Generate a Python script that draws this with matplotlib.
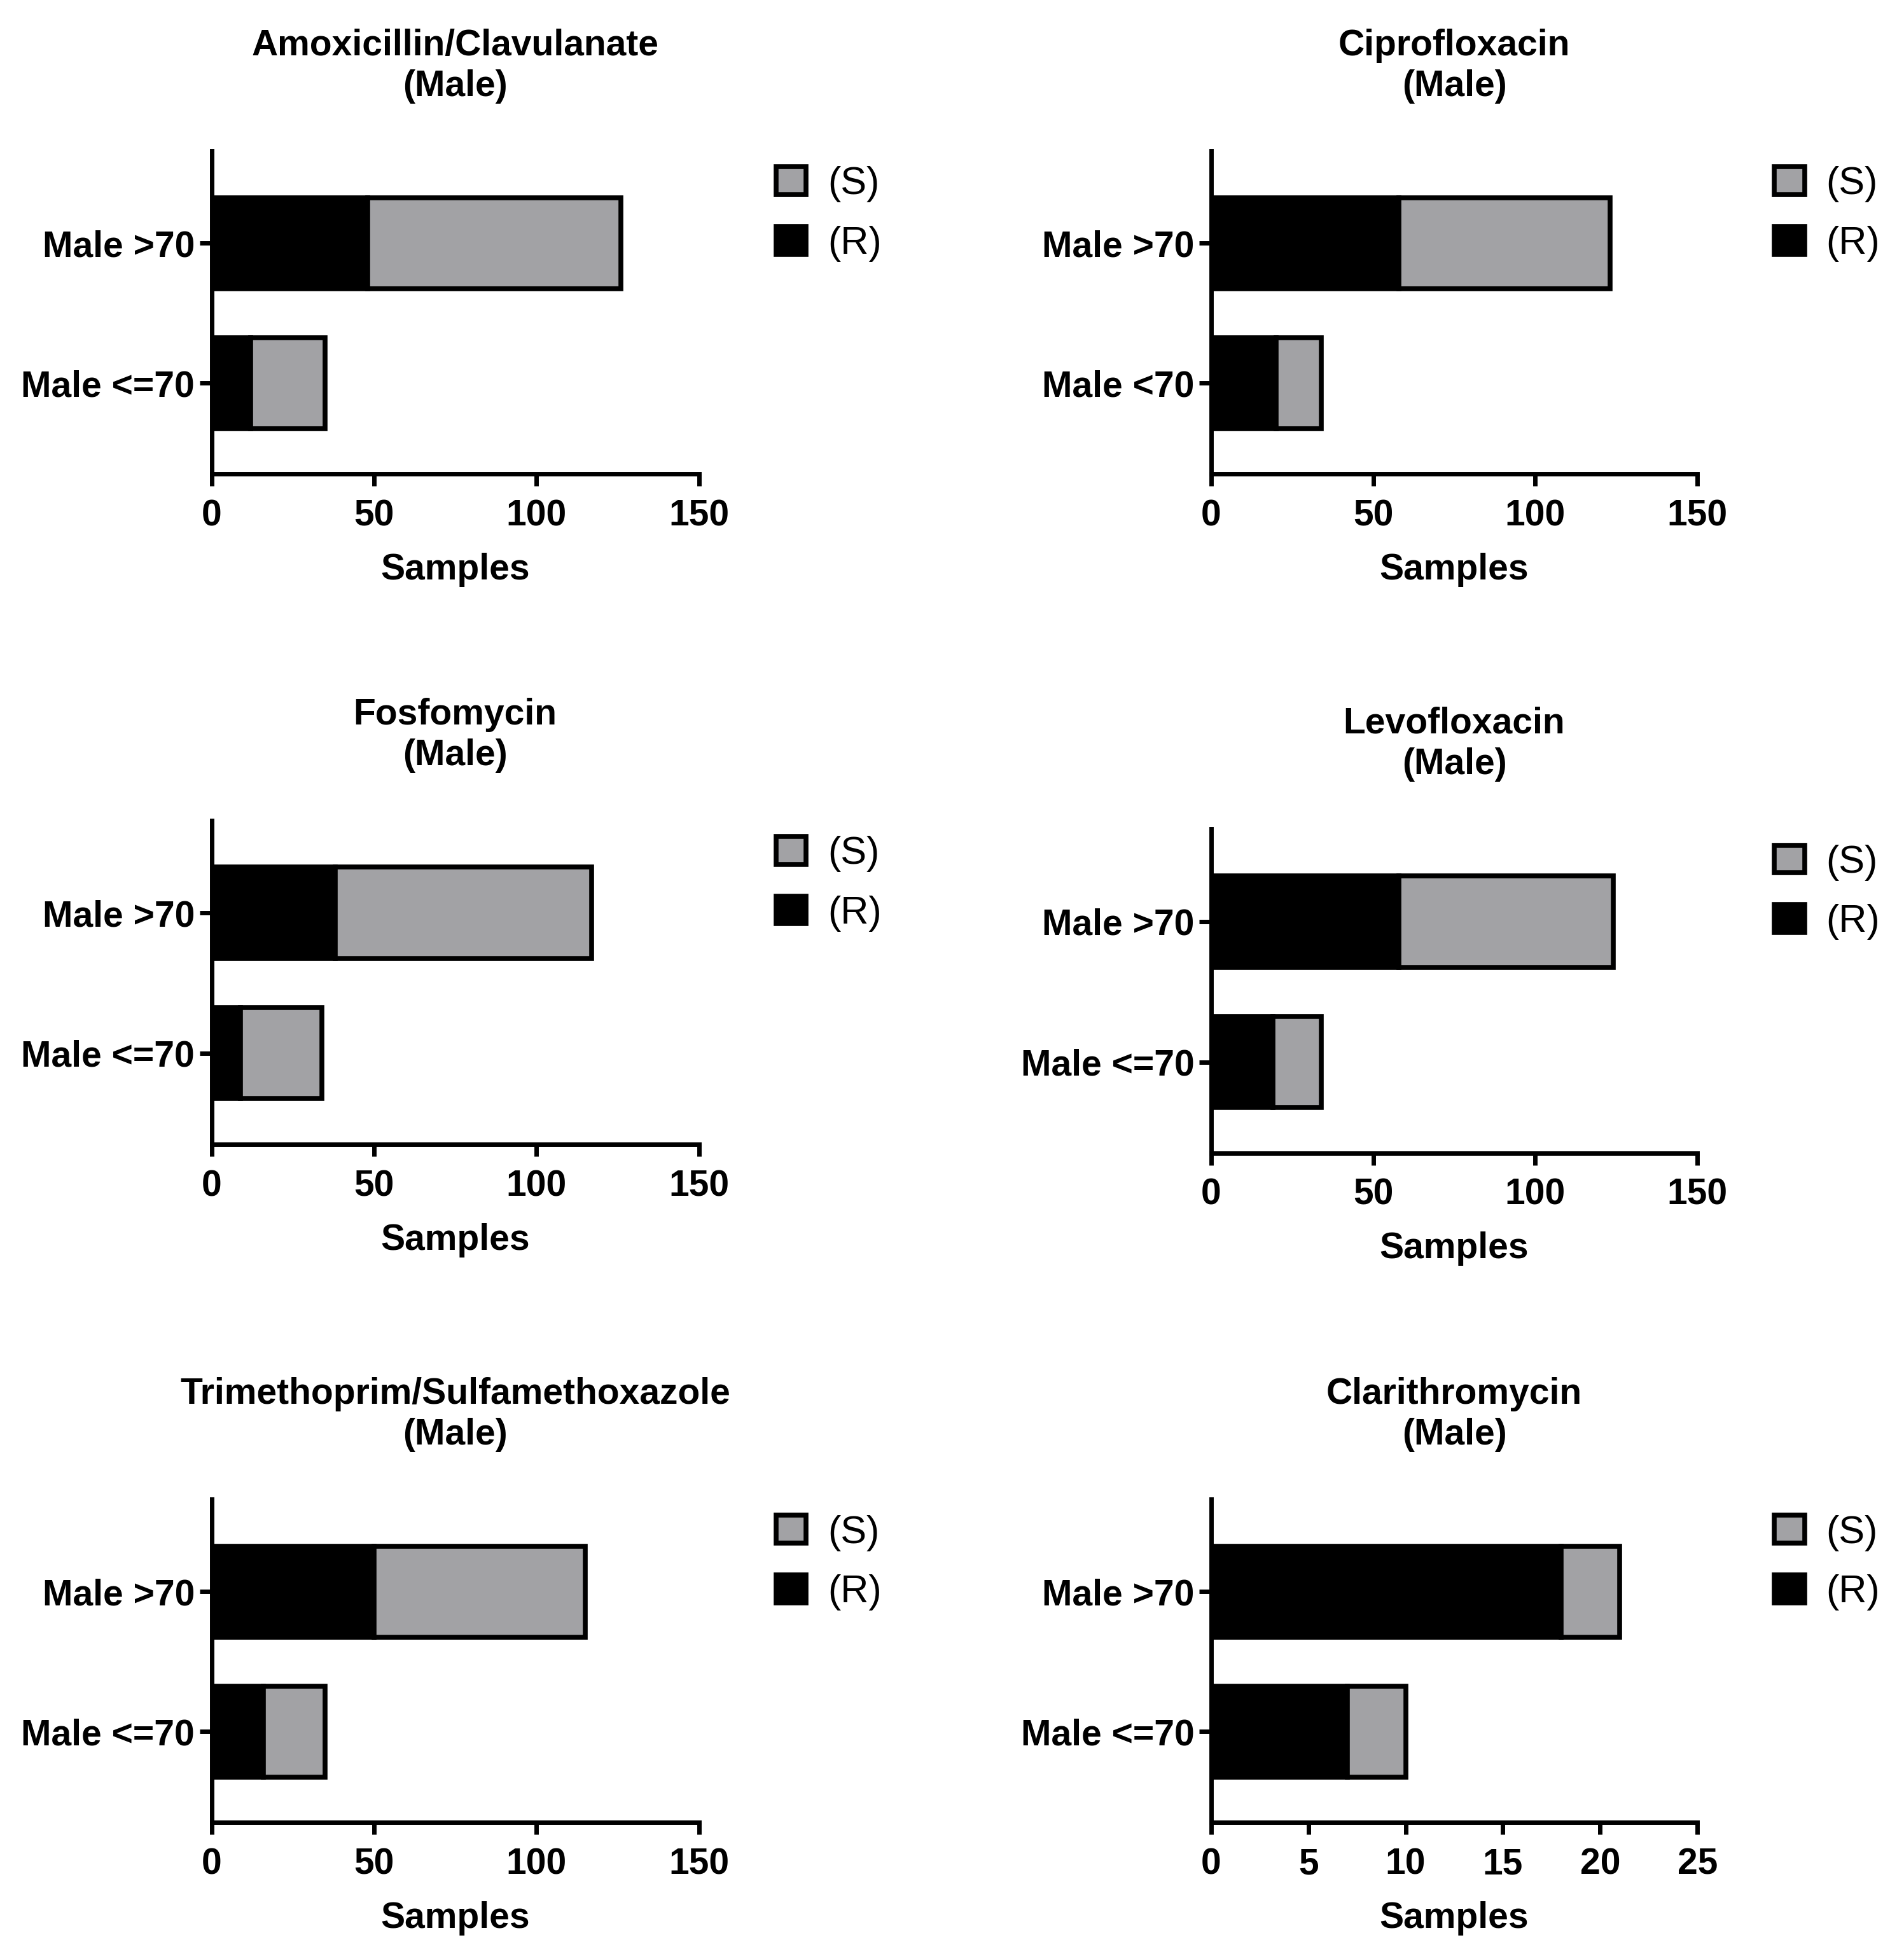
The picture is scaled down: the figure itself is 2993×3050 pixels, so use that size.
import numpy as np
import matplotlib
matplotlib.use("Agg")
import matplotlib.pyplot as plt
from matplotlib.patches import Patch

plt.rcParams['font.family'] = ['Liberation Sans', 'DejaVu Sans']

drugs = ["Amoxicillin/Clavulanate", "Ciprofloxacin", "Fosfomycin",
         "Levofloxacin", "Trimethoprim/Sulfamethoxazole", "Clarithromycin"]
young_labels = ["Male <=70", "Male <70", "Male <=70",
                "Male <=70", "Male <=70", "Male <=70"]
old_label = "Male >70"

# resistant / sensitive counts
r_old = [48, 58, 38, 58, 50, 18]
s_old = [78, 65, 79, 66, 65, 3]
r_young = [12, 20, 9, 19, 16, 7]
s_young = [23, 14, 25, 15, 19, 3]

xmax = [150, 150, 150, 150, 150, 25]
xstep = [50, 50, 50, 50, 50, 5]

grey = '#a2a2a5'
fs = 41
lw = 5.0
blw = 5.5

fig = plt.figure(figsize=(29.93, 30.5), dpi=100)

# axes positions [left, bottom, width, height]
pos = [[0.1111, 0.7557, 0.256, 0.1665],
       [0.6361, 0.7557, 0.2554, 0.1665],
       [0.1111, 0.4101, 0.256, 0.1671],
       [0.6361, 0.4056, 0.2554, 0.1671],
       [0.1111, 0.0606, 0.256, 0.1665],
       [0.6361, 0.0606, 0.2554, 0.1665]]

for i in range(6):
    ax = fig.add_axes(pos[i])
    y = np.array([0, 1])
    r = np.array([r_young[i], r_old[i]])
    s = np.array([s_young[i], s_old[i]])
    ax.barh(y, r, height=0.65, color='black', edgecolor='black', linewidth=blw, zorder=2)
    ax.barh(y, s, left=r, height=0.65, color=grey, edgecolor='black', linewidth=blw, zorder=2)

    ax.set_xlim(0, xmax[i])
    ax.set_ylim(-0.65, 1.66)
    ax.set_xticks(np.arange(0, xmax[i] + 1, xstep[i]))
    ax.set_yticks(y)
    ax.set_yticklabels([young_labels[i], old_label])

    for side in ['top', 'right']:
        ax.spines[side].set_visible(False)
    for side in ['left', 'bottom']:
        ax.spines[side].set_linewidth(lw)
    ax.tick_params(axis='both', width=lw, length=14, labelsize=fs)
    ax.tick_params(axis='x', pad=14)
    ax.tick_params(axis='y', pad=5)
    for lab in ax.get_xticklabels() + ax.get_yticklabels():
        lab.set_fontweight('bold')

    ax.set_xlabel("Samples", fontsize=fs, fontweight='bold', labelpad=22)
    ax.set_title(drugs[i] + "\n(Male)", fontsize=fs, fontweight='bold',
                 pad=62, linespacing=1.25)

    handles = [Patch(facecolor=grey, edgecolor='black', linewidth=blw),
               Patch(facecolor='black', edgecolor='black', linewidth=blw)]
    ax.legend(handles, ["(S)", "(R)"], loc='center left', bbox_to_anchor=(1.158, 0.804),
              frameon=False, fontsize=fs + 3, handlelength=0.78, handleheight=0.72,
              handletextpad=0.55, labelspacing=0.6, borderpad=0, borderaxespad=0)

fig.savefig("out.png", dpi=100)
